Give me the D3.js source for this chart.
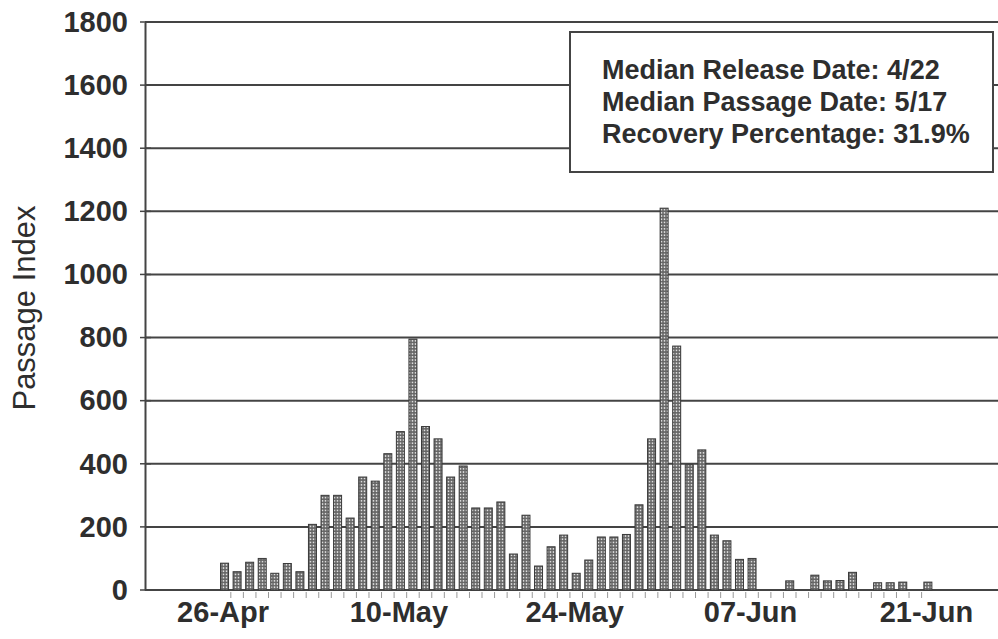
<!DOCTYPE html>
<html>
<head>
<meta charset="utf-8">
<script src="https://cdn.jsdelivr.net/npm/d3@7"></script>
<style>
  html, body { margin: 0; padding: 0; background: #fff; }
  svg { display: block; }
</style>
</head>
<body>
<svg id="chart" width="998" height="639"></svg>
<script>
// Daily passage index, one value per day starting 26-Apr
const firstDay = new Date(2000, 3, 26);
const passage = [
  85, 58, 88, 100, 53, 84, 58, 208, 300, 300,
  228, 358, 345, 432, 502, 795, 518, 479, 358, 393,
  260, 260, 279, 114, 237, 76, 137, 174, 53, 95,
  168, 168, 176, 270, 479, 1210, 773, 397, 444, 174,
  156, 97, 100, 0, 0, 29, 0, 47, 29, 30,
  56, 0, 23, 23, 25, 0, 25
];
const yTicks = [0, 200, 400, 600, 800, 1000, 1200, 1400, 1600, 1800];
const xTickLabels = ["26-Apr", "10-May", "24-May", "07-Jun", "21-Jun"];
const statLines = [
  "Median Release Date: 4/22",
  "Median Passage Date: 5/17",
  "Recovery Percentage: 31.9%"
];

const dayOf = i => d3.timeDay.offset(firstDay, i);
const data = passage.map((v, i) => ({ date: dayOf(i), value: v }));
const xTickDates = xTickLabels.map(s => d3.timeParse("%d-%b-%Y")(s + "-2000"));

const svg = d3.select("#chart");
const W = 998, H = 639;
const plot = { left: 145, right: 998, top: 22, bottom: 590 };
const font = "'Liberation Sans', Arial, Helvetica, sans-serif";

const x = d3.scaleTime()
  .domain([d3.timeHour.offset(firstDay, -6.33 * 24), d3.timeHour.offset(firstDay, 61.6 * 24)])
  .range([plot.left, plot.right]);
const y = d3.scaleLinear().domain([0, 1800]).range([plot.bottom, plot.top]);

svg.append("rect").attr("width", W).attr("height", H).attr("fill", "#fff");

// dotted bar fill
const defs = svg.append("defs");
const pat = defs.append("pattern")
  .attr("id", "dots").attr("patternUnits", "userSpaceOnUse")
  .attr("width", 3).attr("height", 3.2);
pat.append("rect").attr("width", 3).attr("height", 3.2).attr("fill", "#666");
pat.append("circle").attr("cx", 1.5).attr("cy", 1.6).attr("r", 0.9).attr("fill", "#e4e4e4");

// horizontal grid lines
svg.append("g")
  .selectAll("line")
  .data(yTicks)
  .join("line")
  .attr("x1", plot.left).attr("x2", plot.right)
  .attr("y1", d => y(d)).attr("y2", d => y(d))
  .attr("stroke", "#444").attr("stroke-width", 2);

// y axis
const yAxis = svg.append("g")
  .attr("transform", `translate(${plot.left},0)`)
  .call(d3.axisLeft(y).tickValues(yTicks).tickSize(0).tickPadding(17).tickFormat(d3.format("d")));
yAxis.select(".domain").attr("stroke", "#444").attr("stroke-width", 2);
yAxis.selectAll("text")
  .attr("font-family", font)
  .attr("font-size", 29).attr("font-weight", "bold").attr("fill", "#2e2e2e");
svg.append("g").selectAll("line")
  .data(yTicks).join("line")
  .attr("x1", plot.left - 5).attr("x2", plot.left + 6)
  .attr("y1", d => y(d)).attr("y2", d => y(d))
  .attr("stroke", "#444").attr("stroke-width", 1.5);

// daily ticks between bars
const minorDays = d3.range(0, passage.length - 1).map(i => d3.timeHour.offset(firstDay, (i + 0.5) * 24));
svg.append("g").selectAll("line")
  .data(minorDays).join("line")
  .attr("x1", d => x(d)).attr("x2", d => x(d))
  .attr("y1", plot.bottom + 2).attr("y2", plot.bottom + 8)
  .attr("stroke", "#999").attr("stroke-width", 1);

// bars
const barW = 8;
svg.append("g")
  .selectAll("rect")
  .data(data.filter(d => d.value > 0))
  .join("rect")
  .attr("x", d => x(d.date) - barW / 2)
  .attr("y", d => y(d.value))
  .attr("width", barW)
  .attr("height", d => y(0) - y(d.value))
  .attr("fill", "url(#dots)")
  .attr("stroke", "#3a3a3a").attr("stroke-width", 1);

// x axis labels
const xAxis = svg.append("g")
  .attr("transform", `translate(0,${plot.bottom})`)
  .call(d3.axisBottom(x).tickValues(xTickDates).tickSize(0).tickPadding(11)
    .tickFormat((d, i) => xTickLabels[i]));
xAxis.select(".domain").remove();
xAxis.selectAll("text")
  .attr("font-family", font)
  .attr("font-size", 29).attr("font-weight", "bold").attr("fill", "#2e2e2e")
  .attr("dx", -2);

// y axis title
svg.append("text")
  .attr("transform", "translate(35,308) rotate(-90)")
  .attr("text-anchor", "middle")
  .attr("font-family", font)
  .attr("font-size", 31).attr("fill", "#2e2e2e")
  .text("Passage Index");

// summary box
const box = svg.append("g");
box.append("rect")
  .attr("x", 570).attr("y", 32).attr("width", 423).attr("height", 140)
  .attr("fill", "#fff").attr("stroke", "#444").attr("stroke-width", 2);
box.selectAll("text")
  .data(statLines).join("text")
  .attr("x", 602)
  .attr("y", (d, i) => 79 + i * 32)
  .attr("font-family", font)
  .attr("font-size", 27).attr("font-weight", "bold").attr("fill", "#2e2e2e")
  .text(d => d);
</script>
</body>
</html>
